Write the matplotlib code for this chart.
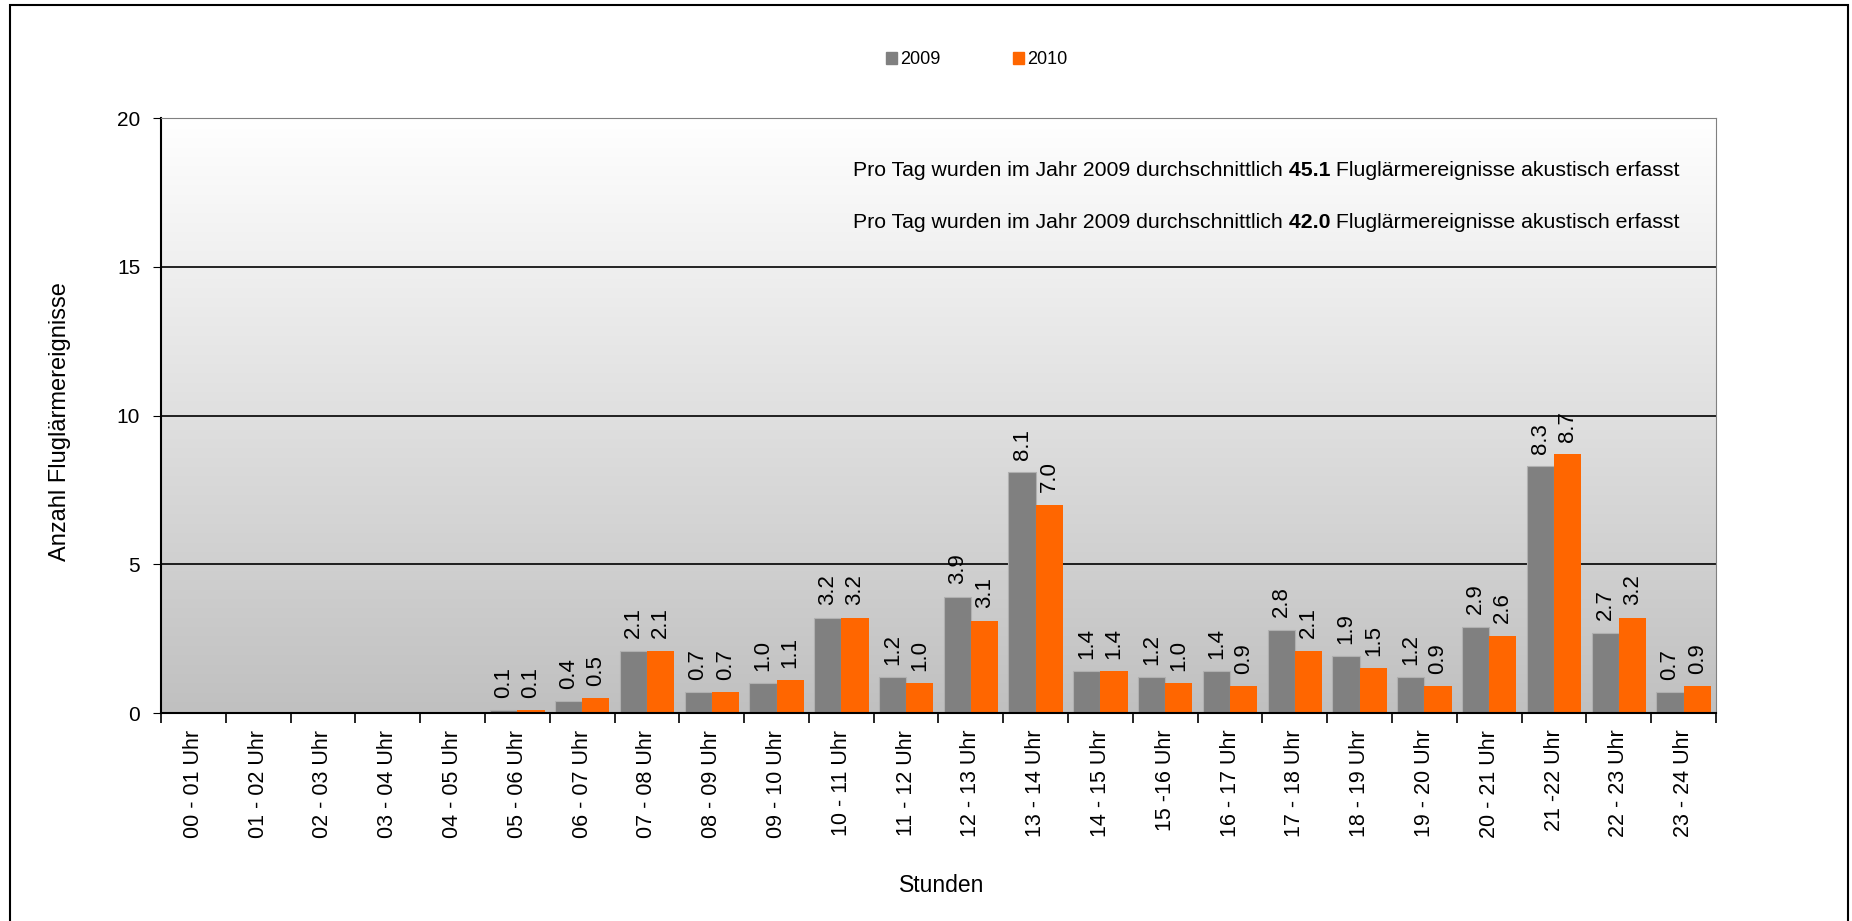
import numpy as np
import matplotlib.pyplot as plt
from matplotlib.patches import Patch, Rectangle
from matplotlib.colors import LinearSegmentedColormap

plt.rcParams['font.family'] = ['Liberation Sans', 'DejaVu Sans']

# data
stunden = ["00 - 01 Uhr", "01 - 02 Uhr", "02 - 03 Uhr", "03 - 04 Uhr", "04 - 05 Uhr",
           "05 - 06 Uhr", "06 - 07 Uhr", "07 - 08 Uhr", "08 - 09 Uhr", "09 - 10 Uhr",
           "10 - 11 Uhr", "11 - 12 Uhr", "12 - 13 Uhr", "13 - 14 Uhr", "14 - 15 Uhr",
           "15 -16 Uhr", "16 - 17 Uhr", "17 - 18 Uhr", "18 - 19 Uhr", "19 - 20 Uhr",
           "20 - 21 Uhr", "21 -22 Uhr", "22 - 23 Uhr", "23 - 24 Uhr"]
werte_2009 = [0, 0, 0, 0, 0, 0.1, 0.4, 2.1, 0.7, 1.0, 3.2, 1.2, 3.9, 8.1, 1.4, 1.2,
              1.4, 2.8, 1.9, 1.2, 2.9, 8.3, 2.7, 0.7]
werte_2010 = [0, 0, 0, 0, 0, 0.1, 0.5, 2.1, 0.7, 1.1, 3.2, 1.0, 3.1, 7.0, 1.4, 1.0,
              0.9, 2.1, 1.5, 0.9, 2.6, 8.7, 3.2, 0.9]
schnitt_2009 = "45.1"
schnitt_2010 = "42.0"

fig = plt.figure(figsize=(18.52, 9.21), dpi=100)
ax = fig.add_axes([161/1852, 1-713/921, (1716-161)/1852, (713-118)/921])

# gradient background of plot area (grey at bottom, white at top)
grad = np.linspace(0, 1, 256).reshape(-1, 1)
ax.imshow(grad, extent=(-0.5, 23.5, 0, 20), aspect='auto', origin='lower',
          cmap=LinearSegmentedColormap.from_list('g', ['#c0c0c0', '#ffffff']),
          zorder=0)
for yy in [5, 10, 15]:
    ax.axhline(yy, color='black', lw=1.2, zorder=1)

x = np.arange(len(stunden))
w = 0.42
ax.bar(x - w/2, werte_2009, w, color='#808080', edgecolor='#b0b0b0', lw=0.8, zorder=2, label='2009')
ax.bar(x + w/2, werte_2010, w, color='#ff6600', zorder=2, label='2010')

for xi, v in zip(x, werte_2009):
    if v > 0:
        ax.annotate(f"{v:.1f}", (xi - w/2, v), xytext=(0, 9), textcoords='offset points',
                    rotation=90, ha='center', va='bottom', fontsize=16)
for xi, v in zip(x, werte_2010):
    if v > 0:
        ax.annotate(f"{v:.1f}", (xi + w/2, v), xytext=(0, 9), textcoords='offset points',
                    rotation=90, ha='center', va='bottom', fontsize=16)

ax.set_xlim(-0.5, 23.5)
ax.set_ylim(0, 20)
ax.set_yticks([0, 5, 10, 15, 20])
ax.tick_params(axis='y', labelsize=15, length=6, pad=9)
ax.set_xticks(x)
ax.set_xticklabels(stunden, rotation=90, fontsize=15.5)
ax.set_xticks(np.arange(-0.5, 24, 1), minor=True)
ax.tick_params(axis='x', which='major', length=0, pad=12)
ax.tick_params(axis='x', which='minor', length=7, width=1.2)

ax.spines['top'].set_color('#808080')
ax.spines['right'].set_color('#808080')
ax.spines['left'].set_linewidth(1.5)
ax.spines['bottom'].set_linewidth(1.5)

# text in plot
t1 = ax.text(1680/1852, 1-170/921, " Fluglärmereignisse akustisch erfasst",
             transform=fig.transFigure, ha='right', va='center', fontsize=15.3)
t2 = ax.annotate(" " + schnitt_2009, xy=(0, 0), xycoords=t1, ha='right', va='bottom',
                 fontsize=15.3, weight='bold')
ax.annotate("Pro Tag wurden im Jahr 2009 durchschnittlich", xy=(0, 0), xycoords=t2,
            ha='right', va='bottom', fontsize=15.3)
t4 = ax.text(1680/1852, 1-222/921, " Fluglärmereignisse akustisch erfasst",
             transform=fig.transFigure, ha='right', va='center', fontsize=15.3)
t5 = ax.annotate(" " + schnitt_2010, xy=(0, 0), xycoords=t4, ha='right', va='bottom',
                 fontsize=15.3, weight='bold')
ax.annotate("Pro Tag wurden im Jahr 2009 durchschnittlich", xy=(0, 0), xycoords=t5,
            ha='right', va='bottom', fontsize=15.3)

fig.text(942/1852, 1-885/921, "Stunden", ha='center', va='center', fontsize=16.5)
fig.text(60/1852, 1-422/921, "Anzahl Fluglärmereignisse", rotation=90,
         ha='center', va='center', fontsize=17)

fig.legend(handles=[Patch(color='#808080', label='2009'), Patch(color='#ff6600', label='2010')],
           loc='center', bbox_to_anchor=(977/1852, 1-60/921), ncol=2, frameon=False,
           fontsize=13, handlelength=0.6, handleheight=0.7, handletextpad=0.2, columnspacing=4)

# outer frame
fig.patches.append(Rectangle((10/1852, -0.02), 1838/1852, 1.02 - 5/921, transform=fig.transFigure,
                             fill=False, ec='black', lw=1.5))

fig.savefig("out.png", dpi=100)
